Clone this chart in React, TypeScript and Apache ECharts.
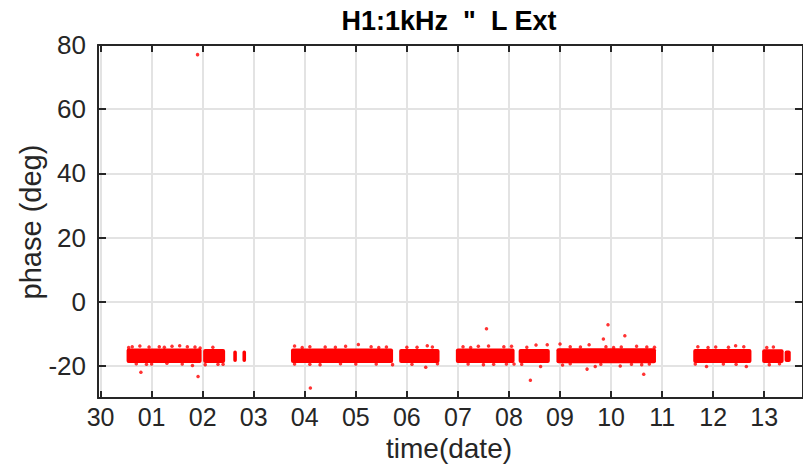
import React, { useEffect, useRef } from "react";
import * as echarts from "echarts";

// x values are days counted from the 30th (0 = "30", 1 = "01", ...)
const xTickValues = [0, 1, 2, 3, 4, 5, 6, 7, 8, 9, 10, 11, 12, 13];
const xTickLabels = ["30", "01", "02", "03", "04", "05", "06", "07", "08", "09", "10", "11", "12", "13"];
const yTickValues = [-20, 0, 20, 40, 60, 80];

// dense clusters of measurements: time span and phase range of each block
const segStart = [0.51, 2.01, 2.6, 2.78, 3.73, 5.85, 6.96, 8.19, 8.93, 11.61, 12.96, 13.4];
const segEnd = [1.98, 2.44, 2.67, 2.85, 5.73, 6.64, 8.11, 8.8, 10.88, 12.75, 13.38, 13.52];
const segLow = [-19.1, -19.1, -18.8, -18.8, -19.1, -19.1, -19.1, -19.1, -19.2, -19.1, -19.1, -18.8];
const segHigh = [-14.6, -14.7, -15.2, -15.2, -14.6, -14.7, -14.6, -14.7, -14.5, -14.7, -14.8, -15.2];

// scattered points around the edges of the blocks
const edgeDays = [
  0.62, 0.77, 0.95, 1.15, 1.4, 1.55, 1.7, 1.85, 2.2, 3.8, 4.1, 4.4, 4.8, 5.05, 5.3, 5.6, 6.0, 6.4, 6.5,
  7.1, 7.4, 7.6, 7.9, 8.05, 8.53, 8.75, 9.0, 9.2, 9.57, 9.9, 10.2, 10.5, 10.7, 11.7, 12.05, 12.44, 12.6,
  13.18, 13.05, 0.55, 1.25, 1.95, 3.95, 4.6, 5.45, 6.2, 7.25, 8.35, 9.4, 10.05, 10.85, 11.9, 12.3,
  0.7, 1.0, 1.3, 1.8, 2.05, 2.3, 3.8, 4.1, 4.7, 5.4, 5.72, 6.37, 6.6, 7.2, 7.7, 8.1, 8.25, 8.62, 9.2,
  9.69, 10.18, 10.4, 10.75, 11.87, 12.2, 12.65, 13.1, 13.3, 0.9, 1.6, 2.4, 4.3, 5.0, 6.1, 7.5, 7.95,
  9.05, 9.8, 10.6, 11.65, 12.45,
];
const edgePhase = [
  -14.0, -13.8, -14.1, -14.0, -13.9, -13.7, -14.0, -14.1, -14.2, -13.8, -14.0, -14.1, -13.9, -13.3, -14.0,
  -14.1, -14.2, -13.7, -14.1, -14.0, -13.9, -13.8, -14.0, -13.9, -13.5, -13.4, -13.2, -14.0, -13.4, -14.0,
  -14.1, -13.9, -14.1, -14.0, -14.1, -13.7, -14.0, -14.1, -14.3, -14.3, -14.2, -14.4, -14.3, -14.2, -14.3,
  -14.2, -14.3, -14.2, -14.1, -14.3, -14.2, -14.3, -14.2,
  -19.3, -19.4, -19.2, -19.9, -19.6, -19.5, -19.4, -19.5, -19.3, -19.4, -19.6, -20.4, -19.3, -19.4, -19.5,
  -19.4, -19.5, -20.2, -19.3, -20.2, -20.0, -19.5, -19.4, -20.2, -19.4, -20.2, -19.6, -19.3, -19.5, -19.4,
  -19.5, -19.6, -19.4, -19.5, -19.6, -19.4, -19.7, -19.5, -19.6, -19.4, -19.5,
];

// isolated outliers
const outDays = [1.9, 0.79, 1.91, 4.11, 7.56, 8.42, 9.94, 9.85, 10.27, 9.53, 10.64];
const outPhase = [77.0, -22.0, -23.3, -26.9, -8.4, -24.5, -7.2, -11.6, -10.6, -21.0, -22.6];

const FONT = "'Liberation Sans', Arial, Helvetica, sans-serif";
const AXIS_COLOR = "#262626";
const GRID_COLOR = "#e3e3e3";

export default function App() {
  const ref = useRef<HTMLDivElement>(null);

  useEffect(() => {
    if (!ref.current) return;
    const chart = echarts.init(ref.current, undefined, { renderer: "svg" });

    const segData = segStart.map((s, i) => [s, segEnd[i], segLow[i], segHigh[i]]);
    const pointData = [
      ...edgeDays.map((d, i) => [d, edgePhase[i]]),
      ...outDays.map((d, i) => [d, outPhase[i]]),
    ];

    const xMin = -0.05;
    const xMax = 13.76;

    const baseX = {
      type: "value" as const,
      min: xMin,
      max: xMax,
      axisLine: { show: true, onZero: false, lineStyle: { color: AXIS_COLOR, width: 2 } },
      axisTick: {
        show: true,
        inside: true,
        length: 7,
        lineStyle: { color: AXIS_COLOR, width: 2 },
        customValues: xTickValues,
      },
    };
    const baseY = {
      type: "value" as const,
      min: -30,
      max: 80,
      axisLine: { show: true, onZero: false, lineStyle: { color: AXIS_COLOR, width: 2 } },
      axisTick: {
        show: true,
        inside: true,
        length: 8,
        lineStyle: { color: AXIS_COLOR, width: 2 },
        customValues: yTickValues,
      },
    };

    chart.setOption({
      animation: false,
      backgroundColor: "#ffffff",
      grid: { left: 98, top: 45, bottom: 66, right: -1, containLabel: false },
      graphic: [
        {
          type: "text",
          x: 449,
          y: 21,
          style: {
            text: 'H1:1kHz  "  L Ext',
            font: `bold 27px ${FONT}`,
            fill: "#000000",
            align: "center",
            verticalAlign: "middle",
          },
        },
        {
          type: "text",
          x: 449,
          y: 448,
          style: {
            text: "time(date)",
            font: `28px ${FONT}`,
            lineHeight: 26,
            fill: AXIS_COLOR,
            align: "center",
            verticalAlign: "middle",
          },
        },
        {
          type: "text",
          x: 31,
          y: 222,
          rotation: Math.PI / 2,
          style: {
            text: "phase (deg)",
            font: `29px ${FONT}`,
            fill: AXIS_COLOR,
            align: "center",
            verticalAlign: "middle",
          },
        },
      ],
      xAxis: [
        {
          ...baseX,
          position: "bottom",
          axisLabel: {
            show: true,
            customValues: xTickValues,
            formatter: (v: number) => xTickLabels[xTickValues.indexOf(Math.round(v))] ?? "",
            color: AXIS_COLOR,
            fontSize: 25,
            lineHeight: 20,
            fontFamily: FONT,
            margin: 9,
          },
          splitLine: { show: true, lineStyle: { color: GRID_COLOR, width: 2 } },
        },
        {
          ...baseX,
          position: "top",
          axisLabel: { show: false },
          splitLine: { show: false },
        },
      ],
      yAxis: [
        {
          ...baseY,
          position: "left",
          axisLabel: {
            show: true,
            customValues: yTickValues,
            color: AXIS_COLOR,
            fontSize: 26,
            fontFamily: FONT,
            margin: 12,
          },
          splitLine: { show: true, lineStyle: { color: GRID_COLOR, width: 2 } },
        },
        {
          ...baseY,
          position: "right",
          axisLabel: { show: false },
          splitLine: { show: false },
        },
      ],
      series: [
        {
          type: "custom",
          xAxisIndex: 0,
          yAxisIndex: 0,
          data: segData,
          renderItem: (params: any, api: any) => {
            const p1 = api.coord([api.value(0), api.value(3)]);
            const p2 = api.coord([api.value(1), api.value(2)]);
            return {
              type: "rect",
              shape: { x: p1[0], y: p1[1], width: p2[0] - p1[0], height: p2[1] - p1[1], r: 2 },
              style: { fill: "#ff0000" },
            };
          },
          z: 3,
        },
        {
          type: "scatter",
          xAxisIndex: 0,
          yAxisIndex: 0,
          data: pointData,
          symbol: "circle",
          symbolSize: 3.5,
          itemStyle: { color: "#ff0000" },
          z: 4,
        },
      ],
    });

    return () => chart.dispose();
  }, []);

  return (
    <div
      ref={ref}
      style={{ position: "fixed", left: 0, top: 0, width: 803, height: 464, overflow: "hidden" }}
    />
  );
}
